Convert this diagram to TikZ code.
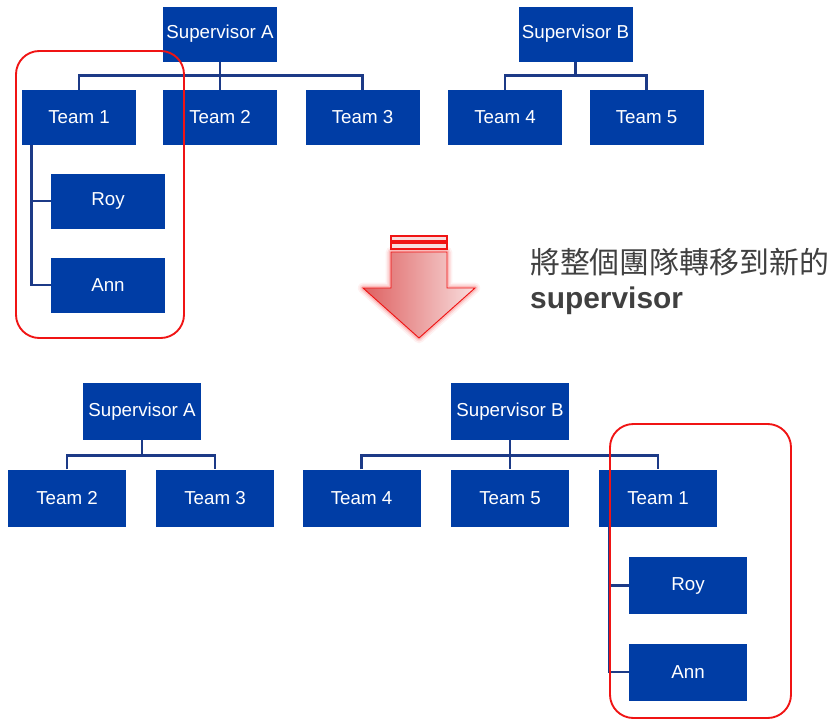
\documentclass[tikz,border=0pt]{standalone}
\usepackage{fontspec}
\setsansfont{Liberation Sans}
\newfontfamily\cjk{Noto Sans CJK TC}
\usepackage{tikz}
\usetikzlibrary{shapes, positioning}

\definecolor{boxblue}{RGB}{0,61,165}
\definecolor{linkblue}{RGB}{28,58,135}
\definecolor{markred}{RGB}{240,20,20}
\definecolor{arrowdark}{RGB}{222,96,96}
\definecolor{arrowlight}{RGB}{248,222,222}
\definecolor{notegray}{RGB}{64,64,64}

\begin{document}
\begin{tikzpicture}[x=0.03cm, y=-0.03cm,
    box/.style={rectangle, fill=boxblue, text=white, inner sep=0pt, minimum width=3.42cm, minimum height=1.65cm, font=\sffamily\fontsize{16}{19}\selectfont},
    bigbox/.style={box, minimum width=3.54cm, minimum height=1.71cm},
    conn/.style={draw=linkblue, line width=2.2pt},
    redbox/.style={draw=markred, line width=1.6pt, rounded corners=0.7cm}]
        \useasboundingbox (0,0) rectangle (836,721);

        % before
        \node[box] (supA) at (220,34) {Supervisor A};
        \node[box] (supB) at (575.5,34) {Supervisor B};
        \node[box] (t1) at (79,117.5) {Team 1};
        \node[box] (t2) at (220,117.5) {Team 2};
        \node[box] (t3) at (362.5,117.5) {Team 3};
        \node[box] (t4) at (505,117.5) {Team 4};
        \node[box] (t5) at (646.5,117.5) {Team 5};
        \node[box] (roy) at (108,201) {Roy};
        \node[box] (ann) at (108,285) {Ann};
        \draw[conn] (t1.north) -- ++(0,-14) -| (t3.north);
        \draw[conn] (supA.south) -- (t2.north);
        \draw[conn] (t4.north) -- ++(0,-14) -| (t5.north);
        \draw[conn] (supB.south) -- ++(0,15);
        \draw[conn] (t1.south west) ++(10,0) |- (ann.west);
        \draw[conn] (roy.west) -- ++(-19,0);
        \draw[redbox] (16,51) rectangle (184,338);

        % arrow
        \foreach \w/\o in {9/0.06, 6/0.1, 3.5/0.16}
            \draw[markred, line width=\w pt, opacity=\o, line join=round] (391,252) -- (447,252) -- (447,288) -- (475,288) -- (419,338) -- (363,288) -- (391,288) -- cycle;
        \shade[left color=arrowdark, right color=arrowlight] (391,252) -- (447,252) -- (447,288) -- (475,288) -- (419,338) -- (363,288) -- (391,288) -- cycle;
        \draw[markred, line width=0.8pt] (391,252) -- (447,252) -- (447,288) -- (475,288) -- (419,338) -- (363,288) -- (391,288) -- cycle;
        \draw[markred, line width=1pt, fill=arrowlight] (391,236) rectangle (447,241);
        \draw[markred, line width=1pt, fill=arrowlight] (391,243) rectangle (447,249);
        \node[anchor=north west, inner sep=0pt, align=left, text=notegray, font=\fontsize{25.5}{29.8}\selectfont] (note) at (530,248)
            {{\cjk 將整個團隊轉移到新的}\\{\sffamily\bfseries supervisor}};

        % after
        \node[bigbox] (supA2) at (142,411.5) {Supervisor A};
        \node[bigbox] (supB2) at (510,411.5) {Supervisor B};
        \node[bigbox] (t2b) at (67,498) {Team 2};
        \node[bigbox] (t3b) at (215,498) {Team 3};
        \node[bigbox] (t4b) at (361.5,498) {Team 4};
        \node[bigbox] (t5b) at (510,498) {Team 5};
        \node[bigbox] (t1b) at (658,498) {Team 1};
        \node[bigbox] (royb) at (688,585.5) {Roy};
        \node[bigbox] (annb) at (688,672) {Ann};
        \draw[conn] (t2b.north) -- ++(0,-14) -| (t3b.north);
        \draw[conn] (supA2.south) -- ++(0,15);
        \draw[conn] (t4b.north) -- ++(0,-14) -| (t1b.north);
        \draw[conn] (supB2.south) -- (t5b.north);
        \draw[conn] (t1b.south west) ++(11,0) |- (annb.west);
        \draw[conn] (royb.west) -- ++(-18,0);
        \draw[redbox] (610,424) rectangle (791,718);
    \end{tikzpicture}
\end{document}
